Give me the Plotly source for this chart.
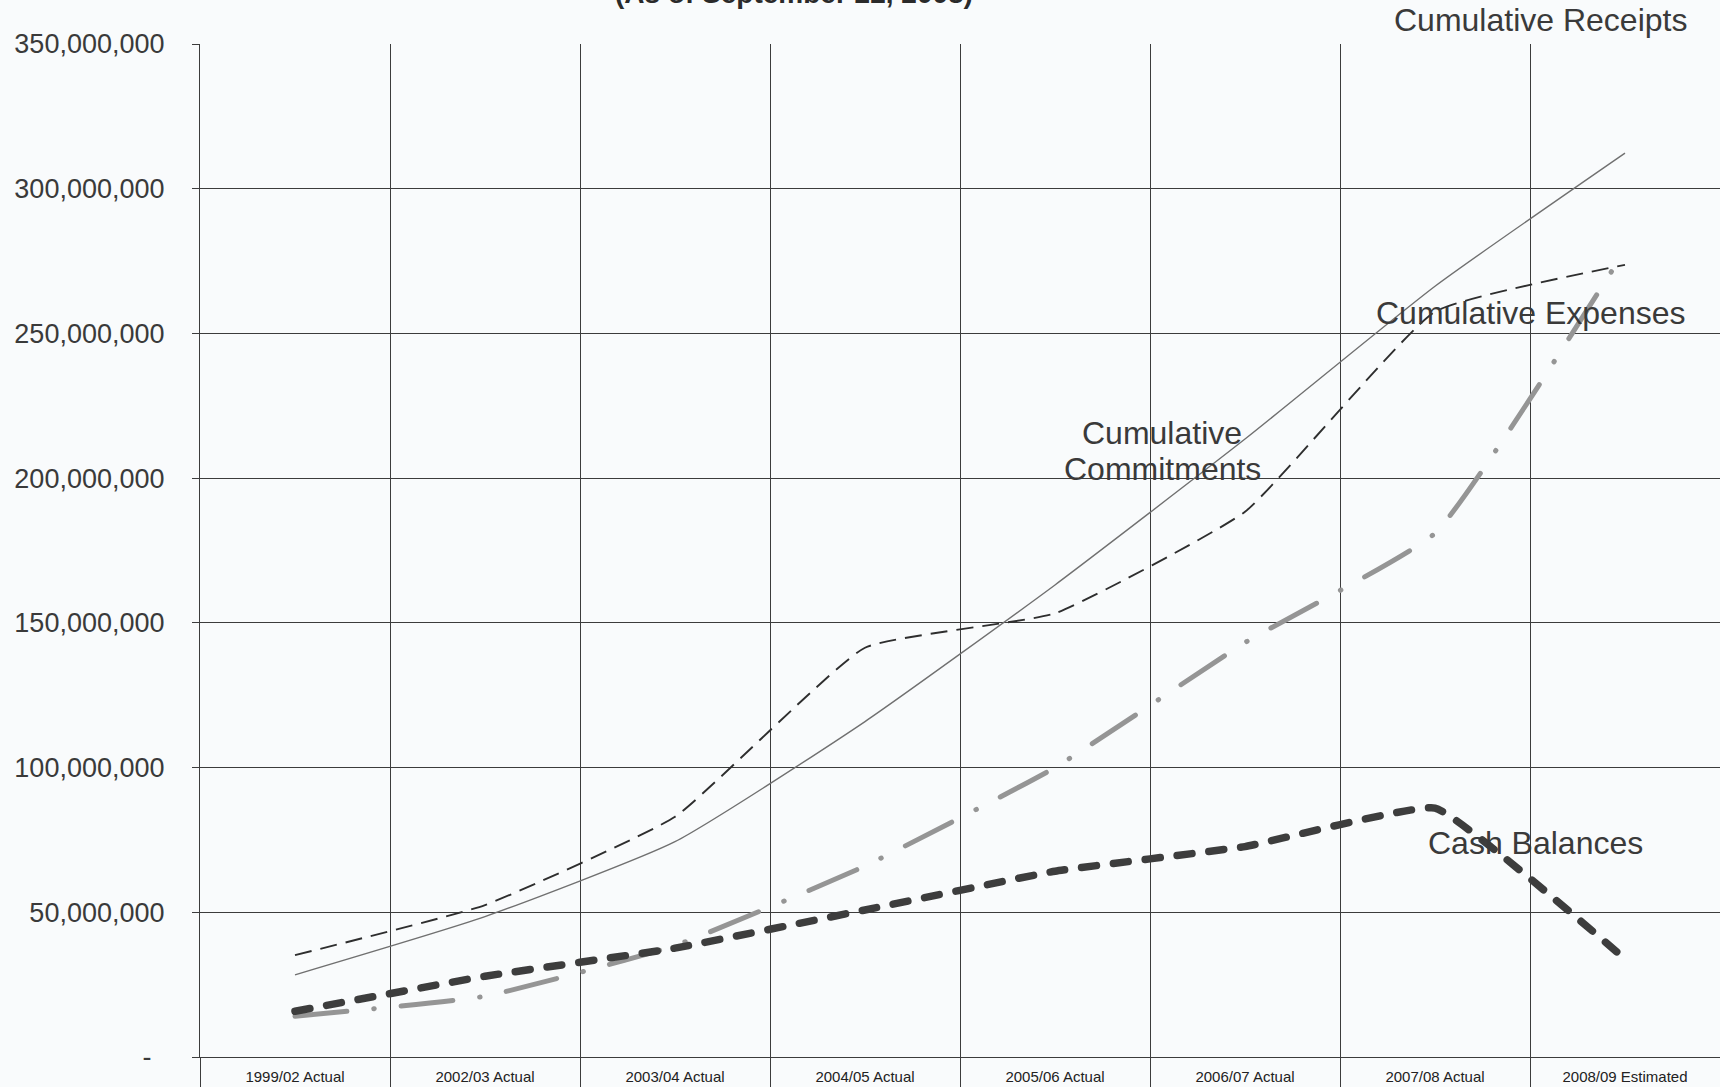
import plotly.graph_objects as go

# Fiscal-year categories on the horizontal axis
years = [
    "1999/02 Actual", "2002/03 Actual", "2003/04 Actual", "2004/05 Actual",
    "2005/06 Actual", "2006/07 Actual", "2007/08 Actual", "2008/09 Estimated",
]

# Series values (dollars)
cumulative_receipts = [28.4e6, 48.5e6, 74.4e6, 115.9e6, 163.1e6, 213.5e6, 266.3e6, 312.3e6]
cumulative_commitments = [35.2e6, 52.5e6, 83.0e6, 141.4e6, 153.3e6, 188.4e6, 257.5e6, 273.7e6]
cumulative_expenses = [14.1e6, 21.0e6, 38.5e6, 66.0e6, 100.0e6, 143.2e6, 181.0e6, 278.8e6]
cash_balances = [15.8e6, 27.9e6, 37.6e6, 50.8e6, 64.2e6, 72.7e6, 86.0e6, 33.9e6]

# Y-axis ticks in accounting style (zero shown as a dash)
y_ticks = [0, 50e6, 100e6, 150e6, 200e6, 250e6, 300e6, 350e6]
y_tick_text = ["-\u00a0\u2009", "50,000,000", "100,000,000", "150,000,000",
               "200,000,000", "250,000,000", "300,000,000", "350,000,000"]

FONT = "Arial, 'Liberation Sans', sans-serif"
TEXT = "#3a3a3a"
GRID = "#3c3c3c"
BG = "#f9fbfc"

fig = go.Figure()

fig.add_trace(go.Scatter(
    x=years, y=cumulative_receipts, mode="lines", name="Cumulative Receipts",
    line=dict(color="#707070", width=1.4, shape="spline", smoothing=0.5),
))
fig.add_trace(go.Scatter(
    x=years, y=cumulative_commitments, mode="lines", name="Cumulative Commitments",
    line=dict(color="#2e2e2e", width=1.9, dash="17px,9px", shape="spline", smoothing=0.4),
))
fig.add_trace(go.Scatter(
    x=years, y=cumulative_expenses, mode="lines", name="Cumulative Expenses",
    line=dict(color="#959595", width=5, dash="52px,27px,0.5px,27px",
              shape="spline", smoothing=0.4),
))
fig.add_trace(go.Scatter(
    x=years, y=cash_balances, mode="lines", name="Cash Balances",
    line=dict(color="#3d3d3d", width=7.5, dash="15px,17px", shape="spline", smoothing=0.3),
))

def label(text, x, y, size=32):
    fig.add_annotation(
        text=text, x=x, y=y, xref="paper", yref="paper",
        xanchor="center", yanchor="middle", showarrow=False,
        font=dict(family=FONT, size=size, color=TEXT),
    )

label("Cumulative Receipts", 0.8816, 1.0237)
label("Cumulative Expenses", 0.875, 0.7344)
label("Cumulative", 0.6329, 0.616)
label("Commitments", 0.6329, 0.5805)
label("Cash Balances", 0.8789, 0.2113)

# Subtitle running off the top edge
fig.add_annotation(
    text="<b>(As of September 22, 2008)</b>", x=0.391, y=1.0503,
    xref="paper", yref="paper", xanchor="center", yanchor="middle",
    showarrow=False, font=dict(family=FONT, size=28, color="#2a2a2a"),
)

fig.update_layout(
    width=1720, height=1087,
    margin=dict(l=200, r=0, t=44, b=30),
    paper_bgcolor=BG, plot_bgcolor=BG,
    showlegend=False,
    font=dict(family=FONT, color=TEXT),
    xaxis=dict(
        type="category", tickson="boundaries", range=[-0.5, 7.5],
        automargin=False,
        showgrid=True, gridcolor=GRID, gridwidth=1.2,
        ticks="outside", ticklen=40, tickcolor=GRID, tickwidth=1.2,
        showline=True, linecolor=GRID, linewidth=1.2,
        tickfont=dict(family=FONT, size=15, color="#222222"),
        ticklabelstandoff=6,
    ),
    yaxis=dict(
        range=[0, 350e6], tickvals=y_ticks, ticktext=y_tick_text,
        automargin=False,
        showgrid=True, gridcolor=GRID, gridwidth=1.2, zeroline=False,
        ticks="outside", ticklen=7, tickcolor=GRID, tickwidth=1.2,
        showline=True, linecolor=GRID, linewidth=1.2,
        tickfont=dict(family=FONT, size=27, color=TEXT),
        ticklabelstandoff=22,
    ),
)

# Rounded dash ends for the two heavy series
round_caps = """
var gd = document.getElementById('{plot_id}');
var traces = gd.querySelectorAll('g.trace.scatter');
[2, 3].forEach(function(i){
  if (traces[i]) {
    traces[i].querySelectorAll('path.js-line').forEach(function(p){
      p.style.strokeLinecap = 'round';
    });
  }
});
"""

fig.write_html("out.html", post_script=round_caps)
